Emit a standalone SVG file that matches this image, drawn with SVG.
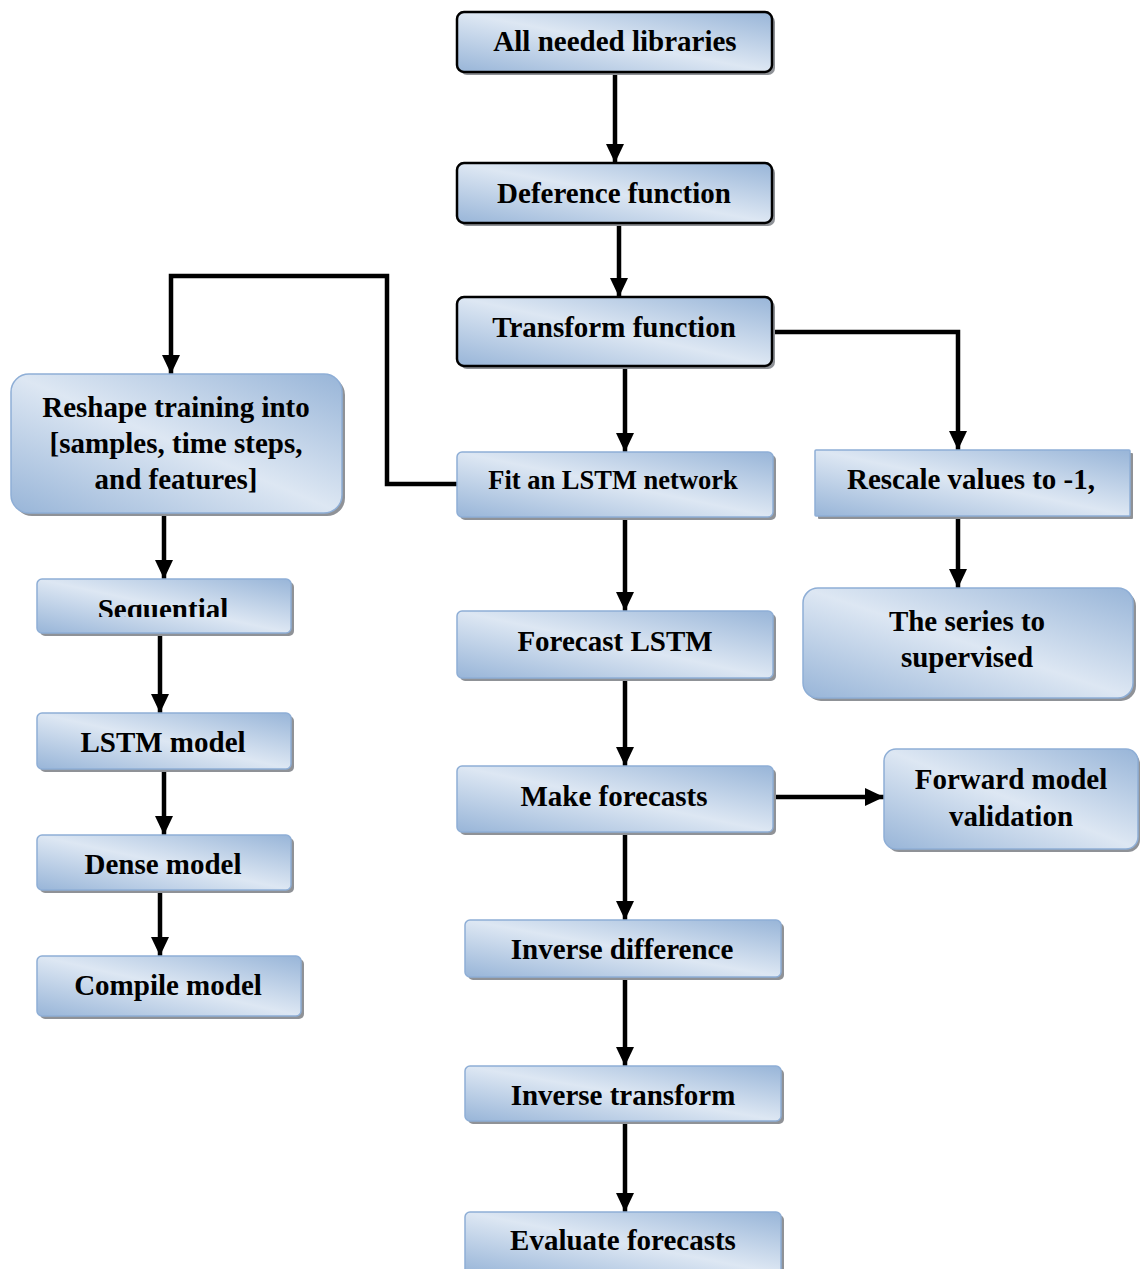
<svg xmlns="http://www.w3.org/2000/svg" width="1140" height="1269" viewBox="0 0 1140 1269">
  <defs>
    <linearGradient id="fillBlue" x1="0" y1="1" x2="1" y2="0">
      <stop offset="0" stop-color="#98b5d8"/>
      <stop offset="0.5" stop-color="#dde7f3"/>
      <stop offset="1" stop-color="#98b5d8"/>
    </linearGradient>
    <marker id="arrow" markerUnits="userSpaceOnUse" markerWidth="20" markerHeight="20" viewBox="0 0 20 20" refX="19" refY="10" orient="auto">
      <path d="M0,1 L19,10 L0,19 Z" fill="#000"/>
    </marker>
    <clipPath id="seqClip">
      <rect x="37" y="579" width="254" height="38"/>
    </clipPath>
  </defs>
  <style>
    .shadow { fill: #8f9297; }
    .box { fill: url(#fillBlue); stroke: #8eaed6; stroke-width: 1.5; }
    .boxDark { fill: url(#fillBlue); stroke: #000; stroke-width: 2.5; }
    .label { font-family: "Liberation Serif", "Times New Roman", serif; font-weight: bold; font-size: 29px; fill: #000; text-anchor: middle; }
    .link { fill: none; stroke: #000; stroke-width: 4.5; marker-end: url(#arrow); }
  </style>
  <rect width="1140" height="1269" fill="#fff"/>

  <!-- connectors -->
  <g id="connectors">
    <path class="link" d="M615,72 V163"/>
    <path class="link" d="M619,223 V297"/>
    <path class="link" d="M625,366 V452"/>
    <path class="link" d="M772,332 H958 V450"/>
    <path class="link" d="M457,484 H387 V276 H171 V374"/>
    <path class="link" d="M164,513 V579"/>
    <path class="link" d="M160,633 V713"/>
    <path class="link" d="M164,769 V835"/>
    <path class="link" d="M160,890 V956"/>
    <path class="link" d="M625,517 V611"/>
    <path class="link" d="M625,678 V766"/>
    <path class="link" d="M773,797 H884"/>
    <path class="link" d="M625,832 V920"/>
    <path class="link" d="M625,977 V1066"/>
    <path class="link" d="M625,1121 V1212"/>
    <path class="link" d="M958,516 V588"/>
  </g>

  <!-- nodes -->
  <g id="n-libraries">
    <rect class="shadow" x="460" y="15" width="315" height="60" rx="7"/>
    <rect class="boxDark" x="457" y="12" width="315" height="60" rx="7"/>
    <text class="label" x="615" y="51">All needed libraries</text>
  </g>
  <g id="n-deference">
    <rect class="shadow" x="460" y="166" width="315" height="60" rx="7"/>
    <rect class="boxDark" x="457" y="163" width="315" height="60" rx="7"/>
    <text class="label" x="614" y="203">Deference function</text>
  </g>
  <g id="n-transform">
    <rect class="shadow" x="460" y="300" width="315" height="69" rx="7"/>
    <rect class="boxDark" x="457" y="297" width="315" height="69" rx="7"/>
    <text class="label" x="614" y="337">Transform function</text>
  </g>
  <g id="n-reshape">
    <rect class="shadow" x="14" y="377" width="331" height="139" rx="18"/>
    <rect class="box" x="11" y="374" width="331" height="139" rx="18"/>
    <text class="label" x="176" y="417">Reshape training into</text>
    <text class="label" x="176" y="453">[samples, time steps,</text>
    <text class="label" x="176" y="489">and features]</text>
  </g>
  <g id="n-fit">
    <rect class="shadow" x="460" y="455" width="316" height="65" rx="5"/>
    <rect class="box" x="457" y="452" width="316" height="65" rx="5"/>
    <text class="label" x="613" y="489" style="font-size:26.5px">Fit an LSTM network</text>
  </g>
  <g id="n-rescale">
    <rect class="shadow" x="818" y="453" width="315" height="66" rx="1"/>
    <rect class="box" x="815" y="450" width="315" height="66" rx="1"/>
    <text class="label" x="971" y="489">Rescale values to -1,</text>
  </g>
  <g id="n-series">
    <rect class="shadow" x="806" y="591" width="330" height="110" rx="15"/>
    <rect class="box" x="803" y="588" width="330" height="110" rx="15"/>
    <text class="label" x="967" y="631">The series to</text>
    <text class="label" x="967" y="667">supervised</text>
  </g>
  <g id="n-sequential">
    <rect class="shadow" x="40" y="582" width="254" height="54" rx="5"/>
    <rect class="box" x="37" y="579" width="254" height="54" rx="5"/>
    <text class="label" x="163" y="619" clip-path="url(#seqClip)">Sequential</text>
  </g>
  <g id="n-forecast">
    <rect class="shadow" x="460" y="614" width="316" height="67" rx="5"/>
    <rect class="box" x="457" y="611" width="316" height="67" rx="5"/>
    <text class="label" x="615" y="651">Forecast LSTM</text>
  </g>
  <g id="n-lstm">
    <rect class="shadow" x="40" y="716" width="254" height="56" rx="5"/>
    <rect class="box" x="37" y="713" width="254" height="56" rx="5"/>
    <text class="label" x="163" y="752">LSTM model</text>
  </g>
  <g id="n-make">
    <rect class="shadow" x="460" y="769" width="316" height="66" rx="5"/>
    <rect class="box" x="457" y="766" width="316" height="66" rx="5"/>
    <text class="label" x="614" y="806">Make forecasts</text>
  </g>
  <g id="n-forward">
    <rect class="shadow" x="887" y="752" width="253" height="100" rx="12"/>
    <rect class="box" x="884" y="749" width="254" height="100" rx="12"/>
    <text class="label" x="1011" y="789">Forward model</text>
    <text class="label" x="1011" y="826">validation</text>
  </g>
  <g id="n-dense">
    <rect class="shadow" x="40" y="838" width="254" height="55" rx="5"/>
    <rect class="box" x="37" y="835" width="254" height="55" rx="5"/>
    <text class="label" x="163" y="874">Dense model</text>
  </g>
  <g id="n-invdiff">
    <rect class="shadow" x="468" y="923" width="316" height="57" rx="5"/>
    <rect class="box" x="465" y="920" width="316" height="57" rx="5"/>
    <text class="label" x="622" y="959">Inverse difference</text>
  </g>
  <g id="n-compile">
    <rect class="shadow" x="40" y="959" width="264" height="60" rx="5"/>
    <rect class="box" x="37" y="956" width="264" height="60" rx="5"/>
    <text class="label" x="168" y="995">Compile model</text>
  </g>
  <g id="n-invtransform">
    <rect class="shadow" x="468" y="1069" width="316" height="55" rx="5"/>
    <rect class="box" x="465" y="1066" width="316" height="55" rx="5"/>
    <text class="label" x="623" y="1105">Inverse transform</text>
  </g>
  <g id="n-evaluate">
    <rect class="shadow" x="468" y="1215" width="316" height="62" rx="5"/>
    <rect class="box" x="465" y="1212" width="316" height="62" rx="5"/>
    <text class="label" x="623" y="1250">Evaluate forecasts</text>
  </g>
</svg>
